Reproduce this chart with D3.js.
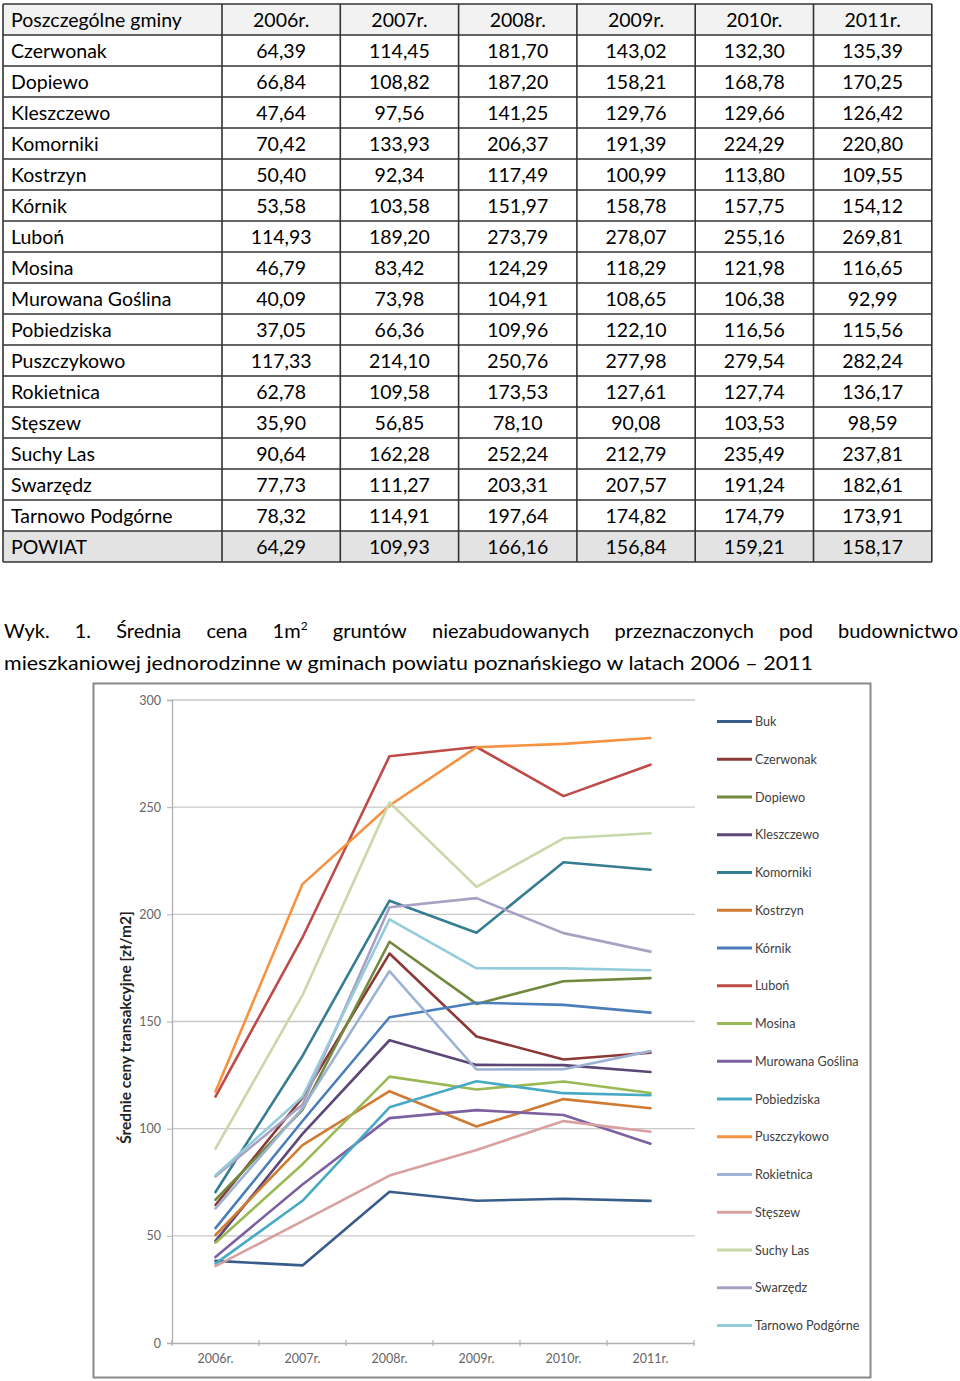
<!DOCTYPE html>
<html><head><meta charset="utf-8">
<script src="https://cdn.jsdelivr.net/npm/d3@7"></script>
<style>
html,body{margin:0;padding:0;background:#fff;}
svg{display:block;}
</style></head>
<body>
<svg id="c" width="960" height="1381"></svg>
<script>
// ---------- DATA ----------
const years = ["2006r.","2007r.","2008r.","2009r.","2010r.","2011r."];
const gminy = ["Czerwonak","Dopiewo","Kleszczewo","Komorniki","Kostrzyn","Kórnik","Luboń","Mosina","Murowana Goślina","Pobiedziska","Puszczykowo","Rokietnica","Stęszew","Suchy Las","Swarzędz","Tarnowo Podgórne"];
const czerwonak   = [64.39,114.45,181.70,143.02,132.30,135.39];
const dopiewo     = [66.84,108.82,187.20,158.21,168.78,170.25];
const kleszczewo  = [47.64,97.56,141.25,129.76,129.66,126.42];
const komorniki   = [70.42,133.93,206.37,191.39,224.29,220.80];
const kostrzyn    = [50.40,92.34,117.49,100.99,113.80,109.55];
const kornik      = [53.58,103.58,151.97,158.78,157.75,154.12];
const lubon       = [114.93,189.20,273.79,278.07,255.16,269.81];
const mosina      = [46.79,83.42,124.29,118.29,121.98,116.65];
const murowana    = [40.09,73.98,104.91,108.65,106.38,92.99];
const pobiedziska = [37.05,66.36,109.96,122.10,116.56,115.56];
const puszczykowo = [117.33,214.10,250.76,277.98,279.54,282.24];
const rokietnica  = [62.78,109.58,173.53,127.61,127.74,136.17];
const steszew     = [35.90,56.85,78.10,90.08,103.53,98.59];
const suchyLas    = [90.64,162.28,252.24,212.79,235.49,237.81];
const swarzedz    = [77.73,111.27,203.31,207.57,191.24,182.61];
const tarnowo     = [78.32,114.91,197.64,174.82,174.79,173.91];
const powiat      = [64.29,109.93,166.16,156.84,159.21,158.17];
const buk         = [38.3,36.2,70.6,66.4,67.3,66.3]; // (not in table)
const yTicks = [0,50,100,150,200,250,300];
const tableHeader = "Poszczególne gminy";
const powiatLabel = "POWIAT";
const captionLine1 = ["Wyk.","1.","Średnia","cena","1m²","gruntów","niezabudowanych","przeznaczonych","pod","budownictwo"];
const captionLine2 = "mieszkaniowej jednorodzinne w gminach powiatu poznańskiego w latach 2006 – 2011";
const yTitle = "Średnie ceny transakcyjne [zł/m2]";

const gminaValues = [czerwonak,dopiewo,kleszczewo,komorniki,kostrzyn,kornik,lubon,mosina,murowana,pobiedziska,puszczykowo,rokietnica,steszew,suchyLas,swarzedz,tarnowo];
const seriesNames = ["Buk"].concat(gminy);
const seriesValues = [buk].concat(gminaValues);
const colors = ["#385D8A","#8C3836","#71893F","#5C4776","#357D91","#D07B34",
                "#4A7EBB","#BE4B48","#98B954","#7D60A0","#46AAC5","#F69240",
                "#9DB3D4","#D8A0A0","#C9D8A8","#A9A0C4","#95CCDB"];

const svg = d3.select("#c");
const fmt = v => d3.format(".2f")(v).replace(".", ",");
const FONT = "Lato, 'Open Sans', sans-serif";

// ---------- TABLE ----------
const tLeft = 3, firstW = 219, colW = 118.3, tTop = 4, rowH = 31;
const rows = [{name: tableHeader, vals: years, kind: "head"}]
  .concat(gminy.map((g,i)=>({name:g, vals: gminaValues[i].map(fmt), kind:"body"})))
  .concat([{name: powiatLabel, vals: powiat.map(fmt), kind:"powiat"}]);
const rowY = d3.scaleBand().domain(d3.range(rows.length)).range([tTop, tTop + rowH*rows.length]);
const colX = d3.scaleBand().domain(d3.range(years.length)).range([tLeft+firstW, tLeft+firstW+colW*years.length]);
const tRight = tLeft+firstW+colW*years.length;
const tbl = svg.append("g");
tbl.selectAll("rect.bg").data(rows).join("rect")
  .attr("x", tLeft).attr("y", (d,i)=>rowY(i)).attr("width", tRight-tLeft).attr("height", rowH)
  .attr("fill", d => d.kind==="head" ? "#f2f2f2" : d.kind==="powiat" ? "#e3e3e3" : "#fff");
const rg = tbl.selectAll("g.row").data(rows).join("g").attr("transform",(d,i)=>`translate(0,${rowY(i)})`);
rg.append("text").attr("x", tLeft+8).attr("y", rowH/2+7).attr("font-family",FONT).attr("font-size",19.5).attr("fill","#000").text(d=>d.name);
rg.selectAll("text.v").data(d=>d.vals).join("text").attr("class","v")
  .attr("x",(d,i)=>colX(i)+colX.bandwidth()/2).attr("y", rowH/2+7).attr("text-anchor","middle")
  .attr("font-family",FONT).attr("font-size",19.5).attr("fill","#000").text(d=>d);
d3.range(rows.length+1).forEach(i=>{
  const yy = tTop + i*rowH;
  tbl.append("line").attr("x1",tLeft).attr("x2",tRight).attr("y1",yy).attr("y2",yy).attr("stroke","#333").attr("stroke-width",1.6);
});
[tLeft].concat(d3.range(years.length+1).map(i=>tLeft+firstW+i*colW)).forEach(xx=>{
  tbl.append("line").attr("x1",xx).attr("x2",xx).attr("y1",tTop).attr("y2",tTop+rowH*rows.length).attr("stroke","#333").attr("stroke-width",1.6);
});

// ---------- CAPTION ----------
const cap = svg.append("g").attr("font-family",FONT).attr("fill","#000");
const capSize = 20;
const l1 = cap.selectAll("text.w").data(captionLine1).join("text").attr("class","w")
  .attr("y",638).attr("font-size",capSize);
l1.each(function(d){
  const t = d3.select(this);
  if (d==="1m²") { t.text("1m"); t.append("tspan").attr("dy",-8).attr("font-size",12).text("2"); }
  else t.text(d);
});
const widths = []; l1.each(function(){ widths.push(this.getBBox().width); });
const totalW = d3.sum(widths), capL = 4, capR = 958;
const gap = (capR-capL-totalW)/(captionLine1.length-1);
let cx = capL;
l1.each(function(d,i){ d3.select(this).attr("x",cx); cx += widths[i]+gap; });
const l2 = cap.append("text").attr("x",4).attr("y",670).attr("font-size",capSize).text(captionLine2);
l2.attr("textLength", 809).attr("lengthAdjust","spacingAndGlyphs");

// ---------- CHART ----------
const ch = svg.append("g");
ch.append("rect").attr("x",93.5).attr("y",683.5).attr("width",777).attr("height",694)
  .attr("fill","#fff").attr("stroke","#8a8a8a").attr("stroke-width",2);
const x = d3.scaleBand().domain(years).range([172,694]);
const y = d3.scaleLinear().domain([0,300]).range([1343,700]);
ch.append("g").selectAll("line").data(yTicks.filter(t=>t>0)).join("line")
  .attr("x1",172).attr("x2",695).attr("y1",d=>y(d)).attr("y2",d=>y(d))
  .attr("stroke","#c8c8c8").attr("stroke-width",1.3);
const ya = ch.append("g").attr("transform","translate(172,0)")
  .call(d3.axisLeft(y).tickValues(yTicks).tickSize(5).tickPadding(6));
ya.select(".domain").attr("stroke","#b0b0b0").attr("stroke-width",1.3);
ya.selectAll(".tick line").attr("stroke","#b0b0b0");
ya.selectAll("text").attr("font-family",FONT).attr("font-size",12.5).attr("fill","#666");
const xa = ch.append("g").attr("transform","translate(0,1343)")
  .call(d3.axisBottom(x).tickSize(0).tickPadding(11));
xa.select(".domain").attr("stroke","#b0b0b0").attr("stroke-width",1.3);
xa.selectAll("text").attr("font-family",FONT).attr("font-size",12.5).attr("fill","#666");
xa.append("g").selectAll("line").data(d3.range(years.length+1)).join("line")
  .attr("x1",i=>172+i*x.step()).attr("x2",i=>172+i*x.step()).attr("y1",-3).attr("y2",3)
  .attr("stroke","#b0b0b0").attr("stroke-width",1.2);
ch.append("text").attr("transform",`translate(131,${(y(0)+y(300))/2+6}) rotate(-90)`)
  .attr("text-anchor","middle").attr("font-family",FONT).attr("font-weight","bold")
  .attr("font-size",15.5).attr("fill","#222").text(yTitle);
const line = d3.line().x((d,i)=>x(years[i])+x.bandwidth()/2).y(d=>y(d));
ch.append("g").selectAll("path").data(seriesValues).join("path")
  .attr("d",line).attr("fill","none").attr("stroke",(d,i)=>colors[i])
  .attr("stroke-width",2.6).attr("stroke-linejoin","round").attr("stroke-linecap","round");
const leg = ch.append("g");
const ly = d3.scaleLinear().domain([0,seriesNames.length-1]).range([721.5,1325.5]);
const li = leg.selectAll("g").data(seriesNames).join("g").attr("transform",(d,i)=>`translate(0,${ly(i)})`);
li.append("line").attr("x1",717).attr("x2",752).attr("stroke",(d,i)=>colors[i]).attr("stroke-width",2.8);
li.append("text").attr("x",755).attr("y",4.5).attr("font-family",FONT).attr("font-size",12.6)
  .attr("fill","#404040").text(d=>d);
</script>
</body></html>
